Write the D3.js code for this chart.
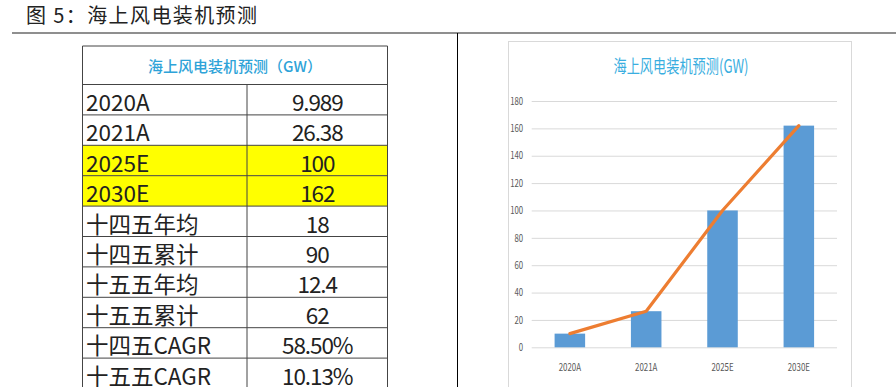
<!DOCTYPE html>
<html>
<head>
<meta charset="utf-8">
<script src="https://cdn.jsdelivr.net/npm/d3@7"></script>
<style>
  body { margin: 0; background: #fff; }
  svg { display: block; }
  text { font-family: "Noto Sans CJK SC", "Noto Sans", sans-serif; }
</style>
</head>
<body>
<div id="figure"></div>
<script>
// table rows
var tableLabels = ['2020A', '2021A', '2025E', '2030E', '十四五年均', '十四五累计', '十五五年均', '十五五累计', '十四五CAGR', '十五五CAGR'];
var tableValues = ['9.989', '26.38', '100', '162', '18', '90', '12.4', '62', '58.50%', '10.13%'];
var highlighted = ['2025E', '2030E'];

// chart series
var years = ['2020A', '2021A', '2025E', '2030E'];
var capacity = [9.989, 26.38, 100, 162];
var yTicks = [0, 20, 40, 60, 80, 100, 120, 140, 160, 180];

var width = 896, height = 387;

var svg = d3.select('#figure').append('svg')
    .attr('width', width)
    .attr('height', height);

// figure caption + rules
svg.append('text')
  .attr('x', 26)
  .attr('y', 23)
  .attr('font-size', 20)
  .attr('letter-spacing', 1.4)
  .attr('fill', '#222')
  .style('white-space', 'pre')
  .text('图 5：海上风电装机预测');

svg.append('line')
  .attr('x1', 12).attr('x2', width)
  .attr('y1', 33).attr('y2', 33)
  .attr('stroke', '#6a6a6a')
  .attr('stroke-width', 1.5);

svg.append('line')
  .attr('x1', 457.5).attr('x2', 457.5)
  .attr('y1', 33).attr('y2', height)
  .attr('stroke', '#000')
  .attr('stroke-width', 1);

// ---------- table ----------
var tLeft = 82.5, tRight = 387.5, tDivider = 247, tTop = 46;
var rowY = d3.scaleLinear()
    .domain([0, tableLabels.length])
    .range([84.5, 84.5 + tableLabels.length * 30.4]);

var table = svg.append('g').attr('class', 'table');

table.selectAll('rect.hl')
  .data(tableLabels.filter(function(d) { return highlighted.indexOf(d) >= 0; }))
  .enter().append('rect')
  .attr('class', 'hl')
  .attr('x', tLeft)
  .attr('width', tRight - tLeft)
  .attr('y', function(d) { return rowY(tableLabels.indexOf(d)); })
  .attr('height', rowY(1) - rowY(0))
  .attr('fill', '#ffff00');

// header
table.append('text')
  .attr('x', (tLeft + tRight) / 2)
  .attr('y', 72)
  .attr('text-anchor', 'middle')
  .attr('font-size', 15)
  .attr('font-weight', 500)
  .attr('fill', '#2ea3d8')
  .text('海上风电装机预测（GW）');

// grid lines
var hLines = [tTop].concat(d3.range(tableLabels.length + 1).map(function(i) { return rowY(i); }));
table.selectAll('line.h')
  .data(hLines)
  .enter().append('line')
  .attr('class', 'h')
  .attr('x1', tLeft).attr('x2', tRight)
  .attr('y1', function(d) { return d; })
  .attr('y2', function(d) { return d; })
  .attr('stroke', '#444');

table.selectAll('line.v')
  .data([[tLeft, tTop], [tRight, tTop], [tDivider, rowY(0)]])
  .enter().append('line')
  .attr('class', 'v')
  .attr('x1', function(d) { return d[0]; })
  .attr('x2', function(d) { return d[0]; })
  .attr('y1', function(d) { return d[1]; })
  .attr('y2', rowY(tableLabels.length))
  .attr('stroke', '#444');

table.selectAll('text.label')
  .data(tableLabels)
  .enter().append('text')
  .attr('class', 'label')
  .attr('x', 86)
  .attr('y', function(d, i) { return rowY(i + 1) - 4; })
  .attr('font-size', 22.5)
  .attr('fill', '#222')
  .text(function(d) { return d; });

table.selectAll('text.value')
  .data(tableValues)
  .enter().append('text')
  .attr('class', 'value')
  .attr('x', (tDivider + tRight) / 2)
  .attr('y', function(d, i) { return rowY(i + 1) - 4; })
  .attr('text-anchor', 'middle')
  .attr('font-size', 22.5)
  .attr('letter-spacing', -1.1)
  .attr('fill', '#222')
  .text(function(d) { return d; });

// ---------- chart ----------
var chart = svg.append('g').attr('class', 'chart');

chart.append('rect')
  .attr('x', 508.5).attr('y', 41.5)
  .attr('width', 343).attr('height', 400)
  .attr('fill', '#fff')
  .attr('stroke', '#d9d9d9');

chart.append('text')
  .attr('x', 681)
  .attr('y', 73)
  .attr('text-anchor', 'middle')
  .attr('font-size', 18)
  .attr('fill', '#3aaee0')
  .attr('textLength', 135)
  .attr('lengthAdjust', 'spacingAndGlyphs')
  .text('海上风电装机预测(GW)');

var plotLeft = 531.7, plotRight = 837;
var y = d3.scaleLinear().domain([0, 180]).range([347.3, 101]);
var x = d3.scaleBand().domain(years).range([plotLeft, plotRight])
    .paddingInner(0.6).paddingOuter(0.3);

var yAxis = chart.append('g')
  .attr('transform', 'translate(' + plotLeft + ',0)')
  .call(d3.axisLeft(y).tickValues(yTicks).tickSize(-(plotRight - plotLeft)));
yAxis.select('.domain').remove();
yAxis.selectAll('line').attr('stroke', '#d9d9d9');
yAxis.selectAll('text')
  .attr('x', -11)
  .attr('transform', 'scale(0.78,1)')
  .attr('font-size', 10)
  .attr('fill', '#595959');

var xAxis = chart.append('g')
  .attr('transform', 'translate(0,' + y(0) + ')')
  .call(d3.axisBottom(x).tickSize(0));
xAxis.select('.domain').remove();
xAxis.selectAll('text')
  .attr('y', 23.5)
  .attr('dy', 0)
  .attr('transform', 'scale(0.72,1)')
  .attr('font-size', 11)
  .attr('fill', '#595959');

var series = years.map(function(d, i) { return { year: d, value: capacity[i] }; });

chart.selectAll('rect.bar')
  .data(series)
  .enter().append('rect')
  .attr('class', 'bar')
  .attr('x', function(d) { return x(d.year); })
  .attr('width', x.bandwidth())
  .attr('y', function(d) { return y(d.value); })
  .attr('height', function(d) { return y(0) - y(d.value); })
  .attr('fill', '#5b9bd5');

var line = d3.line()
  .x(function(d) { return x(d.year) + x.bandwidth() / 2; })
  .y(function(d) { return y(d.value); });

chart.append('path')
  .datum(series)
  .attr('d', line)
  .attr('fill', 'none')
  .attr('stroke', '#ed7d31')
  .attr('stroke-width', 3.2)
  .attr('stroke-linecap', 'round')
  .attr('stroke-linejoin', 'round');
</script>
</body>
</html>
